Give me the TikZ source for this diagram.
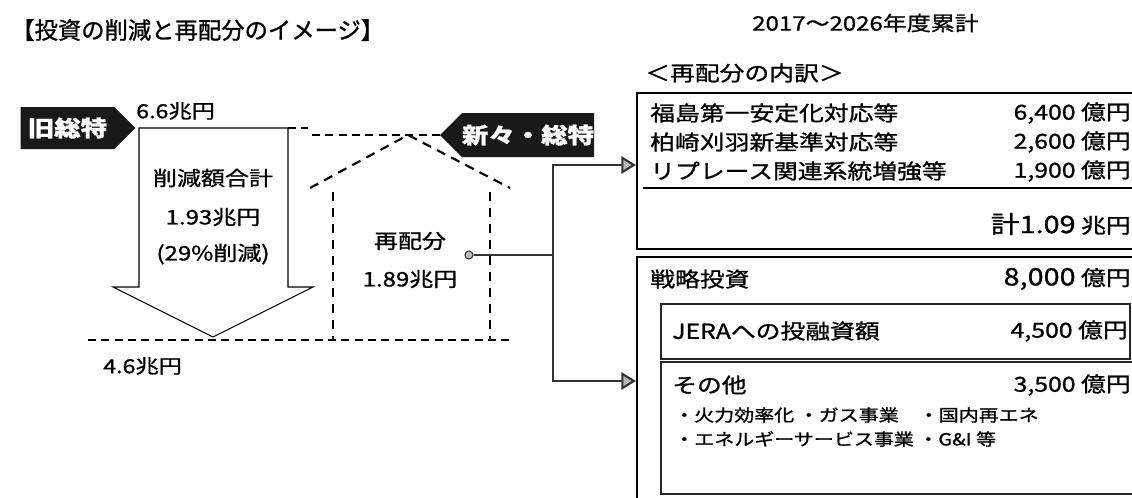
\documentclass[tikz,border=0pt]{standalone}
\usepackage{fontspec}
\setmainfont{Noto Sans CJK JP}[FakeStretch=1.2,FakeBold=1]
\newfontfamily\ttlfont{Noto Sans CJK JP}[FakeBold=1]
\usetikzlibrary{shapes.symbols,arrows.meta}

\newcommand{\fsz}[1]{\fontsize{#1}{#1}\selectfont}

\tikzset{
  txt/.style={inner sep=0pt, font=\fsz{15.5pt}},
  lft/.style={inner sep=0pt, font=\fsz{15pt}},
  sml/.style={inner sep=0pt, font=\fsz{12.5pt}},
  tag/.style={signal, signal from=nowhere, fill=black!90, text=white, inner sep=0pt, font=\bfseries\fsz{16.5pt}},
  lvl/.style={dash pattern=on 6pt off 4pt, line width=0.9pt},
  wall/.style={dash pattern=on 7pt off 5pt, line width=1.6pt},
  boxline/.style={line width=1.1pt},
  link/.style={line width=1.6pt, draw=black!80},
  gtip/.style={-{Triangle[length=11pt,width=13pt,fill=gray!55]}},
}

\begin{document}
\begin{tikzpicture}[x=0.75pt,y=0.75pt,yscale=-1,xscale=1]
\useasboundingbox (0,0) rectangle (1132,497);
\clip (0,0) rectangle (1132,497);

% Text Node
\node[inner sep=0pt, anchor=west, font=\ttlfont\fsz{17.5pt}] (title) at (11,30) {【投資の削減と再配分のイメージ】};
% Text Node
\node[txt, anchor=west, font=\fsz{15pt}] (period) at (752,23) {2017〜2026年度累計};

%Shape: Signal [id:old]
\node[tag, signal to=east, minimum width=86pt, minimum height=31.5pt] (oldtag) at (67.5,128) {旧総特};
%Shape: Signal [id:new]
\node[tag, signal to=west, minimum width=105pt, minimum height=33pt] (newtag) at (528,135) {新々・総特};

%Shape: Down Arrow [id:cut]
\draw [line width=0.8pt] (139,287) -- (139,128) -- (288,128) -- (288,287) -- (313,287) -- (213,337) -- (113,287) -- cycle ;
%Straight Lines [id:levels]
\draw [lvl] (288,128) -- (308,128) ;
\draw [lvl] (312,135) -- (newtag.west) ;
\draw [lvl] (88,340) -- (512,340) ;

%Shape: House [id:redist]
\draw [wall] (310,188) -- (408,135) -- (510,188) ;
\draw [wall] (333,192) -- (333,340) ;
\draw [wall] (490,192) -- (490,340) ;

% Text Node
\node[lft, anchor=west, font=\fsz{14.5pt}] (top) at (136,111) {6.6兆円};
\node[lft] (cuthd) at (213,178) {削減額合計};
\node[lft] (cutval) at (213,217) {1.93兆円};
\node[lft] (cutpct) at (213,254) {(29\%削減)};
\node[lft, anchor=west, font=\fsz{14.5pt}] (bottom) at (103,366) {4.6兆円};
\node[lft] (redhd) at (410,241) {再配分};
\node[lft] (redval) at (410,279) {1.89兆円};

%Connectors
\node[circle, draw=black!80, fill=gray!50, line width=0.8pt, inner sep=0pt, minimum size=6pt] (dot) at (469,255) {};
\coordinate (split) at (553,255);
\coordinate (inA) at (636,165);
\coordinate (inB) at (636,381);
\draw [link] (dot) -- (split) ;
\draw [link, gtip] (split) |- (inA) ;
\draw [link, gtip] (split) |- (inB) ;

% Text Node
\node[txt, anchor=west] (bdown) at (645,73) {＜再配分の内訳＞};

%Shape: Rectangle [id:nuclear]
\draw [boxline] (1140,93) -- (637,93) -- (637,249) -- (1140,249) ;
\draw [line width=0.8pt] (643,188) -- (1140,188) ;
\node[txt, anchor=west] (fuku) at (650,113) {福島第一安定化対応等};
\node[txt, anchor=east] (fukuv) at (1131,113) {6,400 億円};
\node[txt, anchor=west] (kk) at (650,142) {柏崎刈羽新基準対応等};
\node[txt, anchor=east] (kkv) at (1131,142) {2,600 億円};
\node[txt, anchor=west] (repl) at (650,171) {リプレース関連系統増強等};
\node[txt, anchor=east] (replv) at (1131,171) {1,900 億円};
\node[txt, anchor=east] (sum) at (1131,224) {{\fsz{18pt}計1.09} 兆円};

%Shape: Rectangle [id:strategy]
\draw [boxline] (1140,257) -- (637,257) -- (637,520) ;
\node[txt, anchor=west] (strat) at (650,279) {戦略投資};
\node[txt, anchor=east] (stratv) at (1131,279) {{\fsz{18pt}8,000} 億円};

%Shape: Rectangle [id:jera]
\draw [boxline, draw=black!85] (661,304) rectangle (1130,359) ;
\node[txt, anchor=west] (jera) at (672,331) {JERAへの投融資額};
\node[txt, anchor=east] (jerav) at (1128,331) {4,500 億円};

%Shape: Rectangle [id:other]
\draw [boxline, draw=black!85] (1140,362) -- (661,362) -- (661,494) -- (1140,494) ;
\node[txt, anchor=west] (other) at (672,385) {その他};
\node[txt, anchor=east] (otherv) at (1131,385) {3,500 億円};
\node[sml, anchor=west] (listA) at (674,415) {・火力効率化 ・ガス事業　・国内再エネ};
\node[sml, anchor=west] (listB) at (674,439) {・エネルギーサービス事業 ・G\&I 等};

\end{tikzpicture}
\end{document}
